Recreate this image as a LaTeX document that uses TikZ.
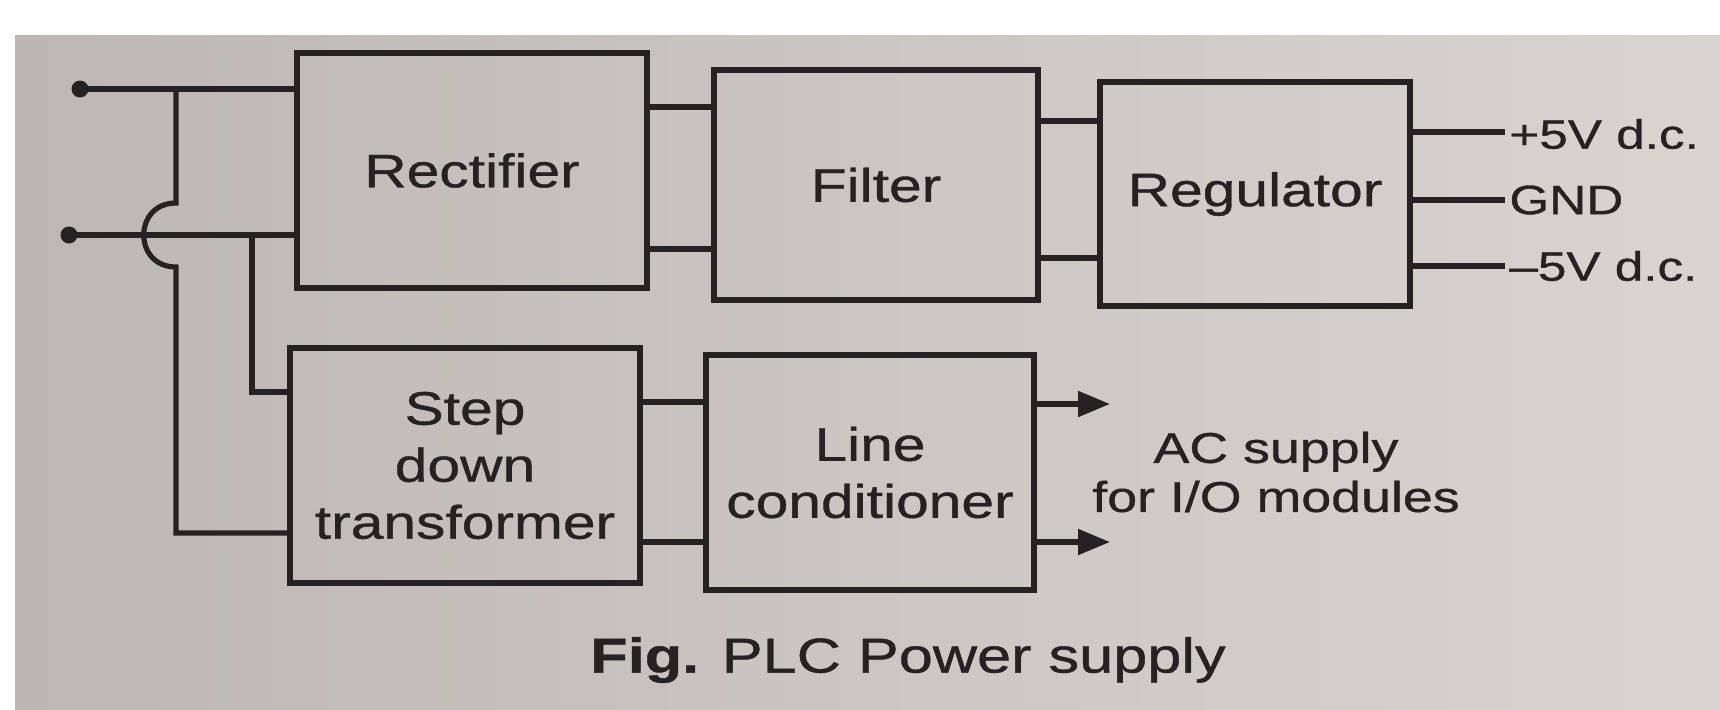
\documentclass[tikz,border=0pt]{standalone}
\usepackage{fontspec}
\setmainfont{Liberation Sans}[FakeStretch=1.25,FakeBold=0.8]
\usetikzlibrary{arrows.meta}
\definecolor{ink}{RGB}{36,34,34}
\definecolor{paperL}{RGB}{188,183,180}
\definecolor{paperR}{RGB}{216,213,209}
\tikzset{
  blk/.style={draw=ink, line width=2.7pt, fill=none, text=ink, align=center,
              font=\fontsize{23.5}{28.5}\selectfont, inner sep=0pt},
  wire/.style={draw=ink, line width=2.6pt},
  arr/.style={wire, -{Triangle[length=16pt,width=12.5pt]}},
  lbl/.style={text=ink, inner sep=0pt},
  dot/.style={circle, fill=ink, inner sep=0pt, minimum size=8.5pt}
}
\begin{document}
\begin{tikzpicture}[x=0.5pt,y=-0.5pt]
\useasboundingbox (0,0) rectangle (1720,709);
\fill[white] (0,0) rectangle (1720,709);
\shade[left color=paperL, right color=paperR] (15,35) rectangle (1720,709);

% blocks
\node[blk, minimum width=175pt, minimum height=117.5pt] (rect) at (472,170.5) {Rectifier};
\node[blk, minimum width=162pt, minimum height=115pt] (filt) at (876,185) {Filter};
\node[blk, minimum width=155pt, minimum height=112pt] (reg) at (1255,194) {Regulator};
\node[blk, minimum width=175pt, minimum height=117.5pt] (xf) at (465,465.5) {Step\\down\\transformer};
\node[blk, minimum width=164pt, minimum height=117.5pt] (lc) at (870,472.5) {Line\\conditioner};

% inputs
\node[dot] (in1) at (80,89) {};
\node[dot] (in2) at (69,235) {};
\draw[wire] (in1.center) -- (rect.west |- in1.center);
\draw[wire] (in2.center) -- (rect.west |- in2.center);

% hop wire from top line to transformer bottom input
\coordinate (j1) at (176,89);
\coordinate (hopA) at (176,203);
\coordinate (hopB) at (176,267);
\coordinate (xfin2) at (xf.west |- 0,533);
\draw[wire] (j1) -- (hopA) .. controls (133,203) and (133,267) .. (hopB) |- (xfin2);

% branch from lower line to transformer upper input
\coordinate (j2) at (252,235);
\coordinate (xfin1) at (xf.west |- 0,392);
\draw[wire] (j2) |- (xfin1);

% rectifier -> filter
\draw[wire] (rect.east |- 0,107) -- (filt.west |- 0,107);
\draw[wire] (rect.east |- 0,249) -- (filt.west |- 0,249);
% filter -> regulator
\draw[wire] (filt.east |- 0,121) -- (reg.west |- 0,121);
\draw[wire] (filt.east |- 0,258) -- (reg.west |- 0,258);

% regulator outputs
\coordinate (o1) at (1505,132);
\coordinate (o2) at (1505,200);
\coordinate (o3) at (1505,266);
\draw[wire] (reg.east |- o1) -- (o1);
\draw[wire] (reg.east |- o2) -- (o2);
\draw[wire] (reg.east |- o3) -- (o3);
\node[lbl, anchor=west, font=\fontsize{20.5}{24}\selectfont] (l1) at (1509,134) {+5V d.c.};
\node[lbl, anchor=west, font=\fontsize{20.5}{24}\selectfont] (l2) at (1509,200) {GND};
\node[lbl, anchor=west, font=\fontsize{20.5}{24}\selectfont] (l3) at (1509,266) {–5V d.c.};

% transformer -> line conditioner
\draw[wire] (xf.east |- 0,402) -- (lc.west |- 0,402);
\draw[wire] (xf.east |- 0,542) -- (lc.west |- 0,542);

% AC outputs
\coordinate (a1) at (1110,404);
\coordinate (a2) at (1110,542);
\draw[arr] (lc.east |- a1) -- (a1);
\draw[arr] (lc.east |- a2) -- (a2);
\node[lbl, align=center, font=\fontsize{21.5}{24.5}\selectfont] (ac) at (1276,472) {AC supply\\for I/O modules};

% caption
\node[lbl, font=\fontsize{24.5}{28}\selectfont] (cap) at (908,660) {\textbf{Fig.} PLC Power supply};
\end{tikzpicture}
\end{document}
